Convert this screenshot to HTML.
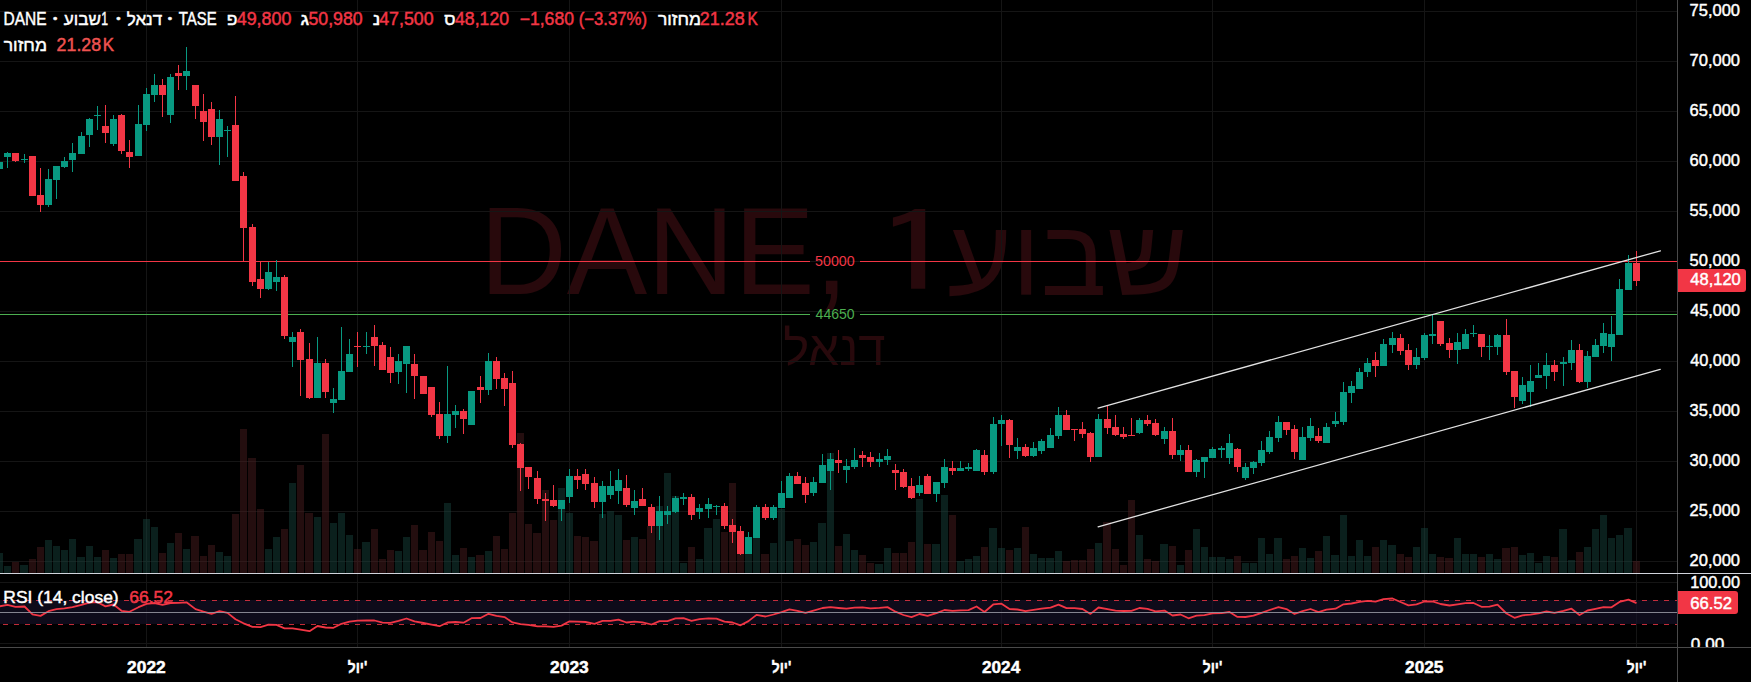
<!DOCTYPE html>
<html><head><meta charset="utf-8"><style>
html,body{margin:0;padding:0;background:#000;width:1751px;height:682px;overflow:hidden}
</style></head><body>
<svg width="1751" height="682" viewBox="0 0 1751 682" style="display:block" font-family="Liberation Sans, Arial, sans-serif">
<rect width="1751" height="682" fill="#000"/>
<text x="479.73" y="293.70" font-size="124" fill="#28090c" textLength="368.58" lengthAdjust="spacingAndGlyphs">DANE,</text>
<text x="872.64" y="293.70" font-size="114" fill="#28090c" textLength="86.37" lengthAdjust="spacingAndGlyphs" font-family="IPAGothic, Liberation Sans, sans-serif">1</text>
<text x="947.19" y="295.00" font-size="108" fill="#28090c" textLength="240.64" lengthAdjust="spacingAndGlyphs">שבוע</text>
<text x="783.27" y="365.00" font-size="48" fill="#28090c" textLength="102.20" lengthAdjust="spacingAndGlyphs">דנאל</text>
<g shape-rendering="crispEdges" fill="#151515">
<rect x="0" y="561" width="1677" height="1"/>
<rect x="0" y="511" width="1677" height="1"/>
<rect x="0" y="461" width="1677" height="1"/>
<rect x="0" y="411" width="1677" height="1"/>
<rect x="0" y="361" width="1677" height="1"/>
<rect x="0" y="311" width="1677" height="1"/>
<rect x="0" y="261" width="1677" height="1"/>
<rect x="0" y="211" width="1677" height="1"/>
<rect x="0" y="161" width="1677" height="1"/>
<rect x="0" y="111" width="1677" height="1"/>
<rect x="0" y="61" width="1677" height="1"/>
<rect x="0" y="11" width="1677" height="1"/>
<rect x="146" y="0" width="1" height="573"/>
<rect x="146" y="574" width="1" height="73"/>
<rect x="357" y="0" width="1" height="573"/>
<rect x="357" y="574" width="1" height="73"/>
<rect x="569" y="0" width="1" height="573"/>
<rect x="569" y="574" width="1" height="73"/>
<rect x="781" y="0" width="1" height="573"/>
<rect x="781" y="574" width="1" height="73"/>
<rect x="1001" y="0" width="1" height="573"/>
<rect x="1001" y="574" width="1" height="73"/>
<rect x="1212" y="0" width="1" height="573"/>
<rect x="1212" y="574" width="1" height="73"/>
<rect x="1424" y="0" width="1" height="573"/>
<rect x="1424" y="574" width="1" height="73"/>
<rect x="1636" y="0" width="1" height="573"/>
<rect x="1636" y="574" width="1" height="73"/>
<rect x="0" y="582" width="1677" height="1"/>
<rect x="0" y="643" width="1677" height="1"/>
</g>
<rect x="0" y="600" width="1677" height="24" fill="rgba(24,18,44,0.6)" shape-rendering="crispEdges"/>
<g shape-rendering="crispEdges">
<rect x="0" y="553" width="3" height="20" fill="rgba(24,72,65,0.45)"/>
<rect x="4" y="566" width="7" height="7" fill="rgba(24,72,65,0.45)"/>
<rect x="12" y="562" width="7" height="11" fill="rgba(80,30,33,0.45)"/>
<rect x="20" y="565" width="8" height="8" fill="rgba(24,72,65,0.45)"/>
<rect x="29" y="559" width="7" height="14" fill="rgba(80,30,33,0.45)"/>
<rect x="37" y="547" width="7" height="26" fill="rgba(80,30,33,0.45)"/>
<rect x="45" y="540" width="7" height="33" fill="rgba(24,72,65,0.45)"/>
<rect x="53" y="546" width="7" height="27" fill="rgba(24,72,65,0.45)"/>
<rect x="61" y="550" width="7" height="23" fill="rgba(24,72,65,0.45)"/>
<rect x="69" y="539" width="7" height="34" fill="rgba(24,72,65,0.45)"/>
<rect x="77" y="557" width="8" height="16" fill="rgba(24,72,65,0.45)"/>
<rect x="86" y="546" width="7" height="27" fill="rgba(24,72,65,0.45)"/>
<rect x="94" y="557" width="7" height="16" fill="rgba(24,72,65,0.45)"/>
<rect x="102" y="550" width="7" height="23" fill="rgba(80,30,33,0.45)"/>
<rect x="110" y="558" width="7" height="15" fill="rgba(24,72,65,0.45)"/>
<rect x="118" y="554" width="7" height="19" fill="rgba(80,30,33,0.45)"/>
<rect x="126" y="554" width="7" height="19" fill="rgba(80,30,33,0.45)"/>
<rect x="134" y="539" width="8" height="34" fill="rgba(24,72,65,0.45)"/>
<rect x="143" y="519" width="7" height="54" fill="rgba(24,72,65,0.45)"/>
<rect x="151" y="527" width="7" height="46" fill="rgba(24,72,65,0.45)"/>
<rect x="159" y="553" width="7" height="20" fill="rgba(80,30,33,0.45)"/>
<rect x="167" y="543" width="7" height="30" fill="rgba(24,72,65,0.45)"/>
<rect x="175" y="533" width="7" height="40" fill="rgba(80,30,33,0.45)"/>
<rect x="183" y="549" width="7" height="24" fill="rgba(24,72,65,0.45)"/>
<rect x="191" y="536" width="8" height="37" fill="rgba(80,30,33,0.45)"/>
<rect x="200" y="556" width="7" height="17" fill="rgba(80,30,33,0.45)"/>
<rect x="208" y="545" width="7" height="28" fill="rgba(80,30,33,0.45)"/>
<rect x="216" y="552" width="7" height="21" fill="rgba(24,72,65,0.45)"/>
<rect x="224" y="556" width="7" height="17" fill="rgba(24,72,65,0.45)"/>
<rect x="232" y="514" width="7" height="59" fill="rgba(80,30,33,0.45)"/>
<rect x="240" y="429" width="7" height="144" fill="rgba(80,30,33,0.45)"/>
<rect x="248" y="458" width="8" height="115" fill="rgba(80,30,33,0.45)"/>
<rect x="257" y="509" width="7" height="64" fill="rgba(80,30,33,0.45)"/>
<rect x="265" y="549" width="7" height="24" fill="rgba(24,72,65,0.45)"/>
<rect x="273" y="537" width="7" height="36" fill="rgba(24,72,65,0.45)"/>
<rect x="281" y="529" width="7" height="44" fill="rgba(80,30,33,0.45)"/>
<rect x="289" y="483" width="7" height="90" fill="rgba(24,72,65,0.45)"/>
<rect x="297" y="465" width="7" height="108" fill="rgba(80,30,33,0.45)"/>
<rect x="305" y="513" width="8" height="60" fill="rgba(80,30,33,0.45)"/>
<rect x="314" y="517" width="7" height="56" fill="rgba(24,72,65,0.45)"/>
<rect x="322" y="434" width="7" height="139" fill="rgba(80,30,33,0.45)"/>
<rect x="330" y="523" width="7" height="50" fill="rgba(24,72,65,0.45)"/>
<rect x="338" y="513" width="7" height="60" fill="rgba(24,72,65,0.45)"/>
<rect x="346" y="535" width="7" height="38" fill="rgba(24,72,65,0.45)"/>
<rect x="354" y="549" width="7" height="24" fill="rgba(80,30,33,0.45)"/>
<rect x="362" y="542" width="8" height="31" fill="rgba(24,72,65,0.45)"/>
<rect x="371" y="529" width="7" height="44" fill="rgba(80,30,33,0.45)"/>
<rect x="379" y="559" width="7" height="14" fill="rgba(80,30,33,0.45)"/>
<rect x="387" y="550" width="7" height="23" fill="rgba(80,30,33,0.45)"/>
<rect x="395" y="551" width="7" height="22" fill="rgba(24,72,65,0.45)"/>
<rect x="403" y="537" width="7" height="36" fill="rgba(24,72,65,0.45)"/>
<rect x="411" y="525" width="7" height="48" fill="rgba(80,30,33,0.45)"/>
<rect x="419" y="550" width="8" height="23" fill="rgba(80,30,33,0.45)"/>
<rect x="428" y="532" width="7" height="41" fill="rgba(80,30,33,0.45)"/>
<rect x="436" y="541" width="7" height="32" fill="rgba(80,30,33,0.45)"/>
<rect x="444" y="503" width="7" height="70" fill="rgba(24,72,65,0.45)"/>
<rect x="452" y="555" width="7" height="18" fill="rgba(24,72,65,0.45)"/>
<rect x="460" y="548" width="7" height="25" fill="rgba(80,30,33,0.45)"/>
<rect x="468" y="557" width="7" height="16" fill="rgba(24,72,65,0.45)"/>
<rect x="476" y="555" width="8" height="18" fill="rgba(80,30,33,0.45)"/>
<rect x="485" y="551" width="7" height="22" fill="rgba(24,72,65,0.45)"/>
<rect x="493" y="536" width="7" height="37" fill="rgba(80,30,33,0.45)"/>
<rect x="501" y="549" width="7" height="24" fill="rgba(80,30,33,0.45)"/>
<rect x="509" y="513" width="7" height="60" fill="rgba(80,30,33,0.45)"/>
<rect x="517" y="433" width="7" height="140" fill="rgba(80,30,33,0.45)"/>
<rect x="525" y="524" width="7" height="49" fill="rgba(80,30,33,0.45)"/>
<rect x="533" y="533" width="8" height="40" fill="rgba(80,30,33,0.45)"/>
<rect x="542" y="490" width="7" height="83" fill="rgba(80,30,33,0.45)"/>
<rect x="550" y="520" width="7" height="53" fill="rgba(80,30,33,0.45)"/>
<rect x="558" y="488" width="7" height="85" fill="rgba(24,72,65,0.45)"/>
<rect x="566" y="513" width="7" height="60" fill="rgba(24,72,65,0.45)"/>
<rect x="574" y="536" width="7" height="37" fill="rgba(80,30,33,0.45)"/>
<rect x="582" y="537" width="7" height="36" fill="rgba(80,30,33,0.45)"/>
<rect x="590" y="541" width="8" height="32" fill="rgba(80,30,33,0.45)"/>
<rect x="599" y="514" width="7" height="59" fill="rgba(24,72,65,0.45)"/>
<rect x="607" y="511" width="7" height="62" fill="rgba(24,72,65,0.45)"/>
<rect x="615" y="515" width="7" height="58" fill="rgba(24,72,65,0.45)"/>
<rect x="623" y="540" width="7" height="33" fill="rgba(80,30,33,0.45)"/>
<rect x="631" y="537" width="7" height="36" fill="rgba(24,72,65,0.45)"/>
<rect x="639" y="539" width="7" height="34" fill="rgba(80,30,33,0.45)"/>
<rect x="647" y="526" width="8" height="47" fill="rgba(80,30,33,0.45)"/>
<rect x="656" y="506" width="7" height="67" fill="rgba(24,72,65,0.45)"/>
<rect x="664" y="473" width="7" height="100" fill="rgba(24,72,65,0.45)"/>
<rect x="672" y="496" width="7" height="77" fill="rgba(24,72,65,0.45)"/>
<rect x="680" y="563" width="7" height="10" fill="rgba(24,72,65,0.45)"/>
<rect x="688" y="547" width="7" height="26" fill="rgba(80,30,33,0.45)"/>
<rect x="696" y="559" width="7" height="14" fill="rgba(24,72,65,0.45)"/>
<rect x="704" y="528" width="8" height="45" fill="rgba(24,72,65,0.45)"/>
<rect x="713" y="519" width="7" height="54" fill="rgba(24,72,65,0.45)"/>
<rect x="721" y="532" width="7" height="41" fill="rgba(80,30,33,0.45)"/>
<rect x="729" y="483" width="7" height="90" fill="rgba(80,30,33,0.45)"/>
<rect x="737" y="554" width="7" height="19" fill="rgba(80,30,33,0.45)"/>
<rect x="745" y="554" width="7" height="19" fill="rgba(24,72,65,0.45)"/>
<rect x="753" y="538" width="7" height="35" fill="rgba(24,72,65,0.45)"/>
<rect x="761" y="554" width="8" height="19" fill="rgba(80,30,33,0.45)"/>
<rect x="770" y="543" width="7" height="30" fill="rgba(24,72,65,0.45)"/>
<rect x="778" y="509" width="7" height="64" fill="rgba(24,72,65,0.45)"/>
<rect x="786" y="541" width="7" height="32" fill="rgba(24,72,65,0.45)"/>
<rect x="794" y="539" width="7" height="34" fill="rgba(80,30,33,0.45)"/>
<rect x="802" y="545" width="7" height="28" fill="rgba(80,30,33,0.45)"/>
<rect x="810" y="542" width="7" height="31" fill="rgba(24,72,65,0.45)"/>
<rect x="818" y="523" width="8" height="50" fill="rgba(24,72,65,0.45)"/>
<rect x="827" y="453" width="7" height="120" fill="rgba(24,72,65,0.45)"/>
<rect x="835" y="546" width="7" height="27" fill="rgba(80,30,33,0.45)"/>
<rect x="843" y="534" width="7" height="39" fill="rgba(24,72,65,0.45)"/>
<rect x="851" y="550" width="7" height="23" fill="rgba(24,72,65,0.45)"/>
<rect x="859" y="555" width="7" height="18" fill="rgba(80,30,33,0.45)"/>
<rect x="867" y="563" width="7" height="10" fill="rgba(80,30,33,0.45)"/>
<rect x="875" y="564" width="8" height="9" fill="rgba(24,72,65,0.45)"/>
<rect x="884" y="548" width="7" height="25" fill="rgba(24,72,65,0.45)"/>
<rect x="892" y="553" width="7" height="20" fill="rgba(80,30,33,0.45)"/>
<rect x="900" y="553" width="7" height="20" fill="rgba(80,30,33,0.45)"/>
<rect x="908" y="542" width="7" height="31" fill="rgba(80,30,33,0.45)"/>
<rect x="916" y="499" width="7" height="74" fill="rgba(24,72,65,0.45)"/>
<rect x="924" y="544" width="7" height="29" fill="rgba(80,30,33,0.45)"/>
<rect x="932" y="544" width="8" height="29" fill="rgba(24,72,65,0.45)"/>
<rect x="941" y="495" width="7" height="78" fill="rgba(24,72,65,0.45)"/>
<rect x="949" y="515" width="7" height="58" fill="rgba(80,30,33,0.45)"/>
<rect x="957" y="561" width="7" height="12" fill="rgba(24,72,65,0.45)"/>
<rect x="965" y="559" width="7" height="14" fill="rgba(24,72,65,0.45)"/>
<rect x="973" y="556" width="7" height="17" fill="rgba(24,72,65,0.45)"/>
<rect x="981" y="547" width="7" height="26" fill="rgba(80,30,33,0.45)"/>
<rect x="989" y="528" width="8" height="45" fill="rgba(24,72,65,0.45)"/>
<rect x="998" y="548" width="7" height="25" fill="rgba(24,72,65,0.45)"/>
<rect x="1006" y="550" width="7" height="23" fill="rgba(80,30,33,0.45)"/>
<rect x="1014" y="548" width="7" height="25" fill="rgba(24,72,65,0.45)"/>
<rect x="1022" y="527" width="7" height="46" fill="rgba(80,30,33,0.45)"/>
<rect x="1030" y="554" width="7" height="19" fill="rgba(24,72,65,0.45)"/>
<rect x="1038" y="558" width="7" height="15" fill="rgba(24,72,65,0.45)"/>
<rect x="1046" y="558" width="8" height="15" fill="rgba(24,72,65,0.45)"/>
<rect x="1055" y="551" width="7" height="22" fill="rgba(24,72,65,0.45)"/>
<rect x="1063" y="561" width="7" height="12" fill="rgba(80,30,33,0.45)"/>
<rect x="1071" y="560" width="7" height="13" fill="rgba(80,30,33,0.45)"/>
<rect x="1079" y="560" width="7" height="13" fill="rgba(80,30,33,0.45)"/>
<rect x="1087" y="549" width="7" height="24" fill="rgba(80,30,33,0.45)"/>
<rect x="1095" y="543" width="7" height="30" fill="rgba(24,72,65,0.45)"/>
<rect x="1103" y="522" width="8" height="51" fill="rgba(80,30,33,0.45)"/>
<rect x="1112" y="549" width="7" height="24" fill="rgba(80,30,33,0.45)"/>
<rect x="1120" y="565" width="7" height="8" fill="rgba(80,30,33,0.45)"/>
<rect x="1128" y="500" width="7" height="73" fill="rgba(80,30,33,0.45)"/>
<rect x="1136" y="535" width="7" height="38" fill="rgba(24,72,65,0.45)"/>
<rect x="1144" y="559" width="7" height="14" fill="rgba(80,30,33,0.45)"/>
<rect x="1152" y="561" width="7" height="12" fill="rgba(80,30,33,0.45)"/>
<rect x="1160" y="544" width="8" height="29" fill="rgba(24,72,65,0.45)"/>
<rect x="1169" y="546" width="7" height="27" fill="rgba(80,30,33,0.45)"/>
<rect x="1177" y="565" width="7" height="8" fill="rgba(24,72,65,0.45)"/>
<rect x="1185" y="550" width="7" height="23" fill="rgba(80,30,33,0.45)"/>
<rect x="1193" y="529" width="7" height="44" fill="rgba(24,72,65,0.45)"/>
<rect x="1201" y="547" width="7" height="26" fill="rgba(24,72,65,0.45)"/>
<rect x="1209" y="557" width="7" height="16" fill="rgba(24,72,65,0.45)"/>
<rect x="1217" y="557" width="8" height="16" fill="rgba(24,72,65,0.45)"/>
<rect x="1226" y="559" width="7" height="14" fill="rgba(24,72,65,0.45)"/>
<rect x="1234" y="556" width="7" height="17" fill="rgba(80,30,33,0.45)"/>
<rect x="1242" y="563" width="7" height="10" fill="rgba(24,72,65,0.45)"/>
<rect x="1250" y="563" width="7" height="10" fill="rgba(24,72,65,0.45)"/>
<rect x="1258" y="538" width="7" height="35" fill="rgba(24,72,65,0.45)"/>
<rect x="1266" y="554" width="7" height="19" fill="rgba(24,72,65,0.45)"/>
<rect x="1274" y="538" width="8" height="35" fill="rgba(24,72,65,0.45)"/>
<rect x="1283" y="559" width="7" height="14" fill="rgba(80,30,33,0.45)"/>
<rect x="1291" y="556" width="7" height="17" fill="rgba(80,30,33,0.45)"/>
<rect x="1299" y="548" width="7" height="25" fill="rgba(24,72,65,0.45)"/>
<rect x="1307" y="558" width="7" height="15" fill="rgba(24,72,65,0.45)"/>
<rect x="1315" y="551" width="7" height="22" fill="rgba(80,30,33,0.45)"/>
<rect x="1323" y="536" width="7" height="37" fill="rgba(24,72,65,0.45)"/>
<rect x="1331" y="555" width="8" height="18" fill="rgba(24,72,65,0.45)"/>
<rect x="1340" y="515" width="7" height="58" fill="rgba(24,72,65,0.45)"/>
<rect x="1348" y="556" width="7" height="17" fill="rgba(24,72,65,0.45)"/>
<rect x="1356" y="540" width="7" height="33" fill="rgba(24,72,65,0.45)"/>
<rect x="1364" y="556" width="7" height="17" fill="rgba(24,72,65,0.45)"/>
<rect x="1372" y="547" width="7" height="26" fill="rgba(80,30,33,0.45)"/>
<rect x="1380" y="540" width="7" height="33" fill="rgba(24,72,65,0.45)"/>
<rect x="1388" y="545" width="8" height="28" fill="rgba(24,72,65,0.45)"/>
<rect x="1397" y="554" width="7" height="19" fill="rgba(80,30,33,0.45)"/>
<rect x="1405" y="557" width="7" height="16" fill="rgba(80,30,33,0.45)"/>
<rect x="1413" y="547" width="7" height="26" fill="rgba(24,72,65,0.45)"/>
<rect x="1421" y="528" width="7" height="45" fill="rgba(24,72,65,0.45)"/>
<rect x="1429" y="554" width="7" height="19" fill="rgba(24,72,65,0.45)"/>
<rect x="1437" y="557" width="7" height="16" fill="rgba(80,30,33,0.45)"/>
<rect x="1445" y="558" width="8" height="15" fill="rgba(80,30,33,0.45)"/>
<rect x="1454" y="538" width="7" height="35" fill="rgba(24,72,65,0.45)"/>
<rect x="1462" y="554" width="7" height="19" fill="rgba(24,72,65,0.45)"/>
<rect x="1470" y="554" width="7" height="19" fill="rgba(24,72,65,0.45)"/>
<rect x="1478" y="557" width="7" height="16" fill="rgba(80,30,33,0.45)"/>
<rect x="1486" y="554" width="7" height="19" fill="rgba(24,72,65,0.45)"/>
<rect x="1494" y="559" width="7" height="14" fill="rgba(24,72,65,0.45)"/>
<rect x="1502" y="548" width="8" height="25" fill="rgba(80,30,33,0.45)"/>
<rect x="1511" y="547" width="7" height="26" fill="rgba(80,30,33,0.45)"/>
<rect x="1519" y="555" width="7" height="18" fill="rgba(24,72,65,0.45)"/>
<rect x="1527" y="553" width="7" height="20" fill="rgba(24,72,65,0.45)"/>
<rect x="1535" y="563" width="7" height="10" fill="rgba(24,72,65,0.45)"/>
<rect x="1543" y="556" width="7" height="17" fill="rgba(24,72,65,0.45)"/>
<rect x="1551" y="557" width="7" height="16" fill="rgba(80,30,33,0.45)"/>
<rect x="1559" y="529" width="8" height="44" fill="rgba(24,72,65,0.45)"/>
<rect x="1568" y="560" width="7" height="13" fill="rgba(24,72,65,0.45)"/>
<rect x="1576" y="552" width="7" height="21" fill="rgba(80,30,33,0.45)"/>
<rect x="1584" y="547" width="7" height="26" fill="rgba(24,72,65,0.45)"/>
<rect x="1592" y="529" width="7" height="44" fill="rgba(24,72,65,0.45)"/>
<rect x="1600" y="515" width="7" height="58" fill="rgba(24,72,65,0.45)"/>
<rect x="1608" y="538" width="7" height="35" fill="rgba(24,72,65,0.45)"/>
<rect x="1616" y="535" width="7" height="38" fill="rgba(24,72,65,0.45)"/>
<rect x="1624" y="528" width="8" height="45" fill="rgba(24,72,65,0.45)"/>
<rect x="1633" y="561" width="7" height="12" fill="rgba(80,30,33,0.45)"/>
</g>
<g shape-rendering="crispEdges">
<rect x="0" y="261" width="810" height="1" fill="#F23645"/>
<rect x="860" y="261" width="817" height="1" fill="#F23645"/>
<rect x="0" y="314" width="810" height="1" fill="#4caf50"/>
<rect x="860" y="314" width="817" height="1" fill="#4caf50"/>
</g>
<text x="815.09" y="265.80" font-size="15" fill="#F23645" textLength="39.56" lengthAdjust="spacingAndGlyphs">50000</text>
<text x="815.57" y="319.30" font-size="15" fill="#4caf50" textLength="39.07" lengthAdjust="spacingAndGlyphs">44650</text>
<g shape-rendering="crispEdges">
<rect x="-1" y="160" width="1" height="10" fill="#089981"/>
<rect x="-4" y="162" width="7" height="7" fill="#089981"/>
<rect x="7" y="152" width="1" height="16" fill="#089981"/>
<rect x="4" y="153" width="7" height="4" fill="#089981"/>
<rect x="15" y="153" width="1" height="9" fill="#F23645"/>
<rect x="12" y="153" width="7" height="8" fill="#F23645"/>
<rect x="24" y="154" width="1" height="9" fill="#089981"/>
<rect x="21" y="159" width="7" height="1" fill="#089981"/>
<rect x="32" y="156" width="1" height="40" fill="#F23645"/>
<rect x="29" y="156" width="7" height="40" fill="#F23645"/>
<rect x="40" y="168" width="1" height="44" fill="#F23645"/>
<rect x="37" y="195" width="7" height="10" fill="#F23645"/>
<rect x="48" y="169" width="1" height="38" fill="#089981"/>
<rect x="45" y="179" width="7" height="26" fill="#089981"/>
<rect x="56" y="166" width="1" height="33" fill="#089981"/>
<rect x="53" y="166" width="7" height="14" fill="#089981"/>
<rect x="64" y="157" width="1" height="11" fill="#089981"/>
<rect x="61" y="161" width="7" height="6" fill="#089981"/>
<rect x="72" y="143" width="1" height="29" fill="#089981"/>
<rect x="69" y="153" width="7" height="7" fill="#089981"/>
<rect x="81" y="132" width="1" height="22" fill="#089981"/>
<rect x="78" y="136" width="7" height="18" fill="#089981"/>
<rect x="89" y="118" width="1" height="29" fill="#089981"/>
<rect x="86" y="119" width="7" height="16" fill="#089981"/>
<rect x="97" y="106" width="1" height="24" fill="#089981"/>
<rect x="94" y="115" width="7" height="1" fill="#089981"/>
<rect x="105" y="105" width="1" height="38" fill="#F23645"/>
<rect x="102" y="126" width="7" height="7" fill="#F23645"/>
<rect x="113" y="115" width="1" height="31" fill="#089981"/>
<rect x="110" y="119" width="7" height="25" fill="#089981"/>
<rect x="121" y="114" width="1" height="40" fill="#F23645"/>
<rect x="118" y="115" width="7" height="36" fill="#F23645"/>
<rect x="129" y="140" width="1" height="28" fill="#F23645"/>
<rect x="126" y="152" width="7" height="5" fill="#F23645"/>
<rect x="138" y="105" width="1" height="51" fill="#089981"/>
<rect x="135" y="124" width="7" height="32" fill="#089981"/>
<rect x="146" y="88" width="1" height="43" fill="#089981"/>
<rect x="143" y="94" width="7" height="31" fill="#089981"/>
<rect x="154" y="74" width="1" height="28" fill="#089981"/>
<rect x="151" y="85" width="7" height="10" fill="#089981"/>
<rect x="162" y="79" width="1" height="38" fill="#F23645"/>
<rect x="159" y="85" width="7" height="10" fill="#F23645"/>
<rect x="170" y="74" width="1" height="49" fill="#089981"/>
<rect x="167" y="77" width="7" height="38" fill="#089981"/>
<rect x="178" y="65" width="1" height="25" fill="#F23645"/>
<rect x="175" y="73" width="7" height="3" fill="#F23645"/>
<rect x="186" y="47" width="1" height="43" fill="#089981"/>
<rect x="183" y="71" width="7" height="5" fill="#089981"/>
<rect x="195" y="85" width="1" height="34" fill="#F23645"/>
<rect x="192" y="85" width="7" height="21" fill="#F23645"/>
<rect x="203" y="94" width="1" height="47" fill="#F23645"/>
<rect x="200" y="111" width="7" height="11" fill="#F23645"/>
<rect x="211" y="102" width="1" height="43" fill="#F23645"/>
<rect x="208" y="109" width="7" height="28" fill="#F23645"/>
<rect x="219" y="110" width="1" height="55" fill="#089981"/>
<rect x="216" y="119" width="7" height="18" fill="#089981"/>
<rect x="227" y="126" width="1" height="31" fill="#089981"/>
<rect x="224" y="130" width="7" height="1" fill="#089981"/>
<rect x="235" y="96" width="1" height="85" fill="#F23645"/>
<rect x="232" y="125" width="7" height="56" fill="#F23645"/>
<rect x="243" y="172" width="1" height="89" fill="#F23645"/>
<rect x="240" y="176" width="7" height="52" fill="#F23645"/>
<rect x="252" y="224" width="1" height="62" fill="#F23645"/>
<rect x="249" y="227" width="7" height="55" fill="#F23645"/>
<rect x="260" y="262" width="1" height="36" fill="#F23645"/>
<rect x="257" y="279" width="7" height="10" fill="#F23645"/>
<rect x="268" y="262" width="1" height="28" fill="#089981"/>
<rect x="265" y="272" width="7" height="17" fill="#089981"/>
<rect x="276" y="260" width="1" height="31" fill="#089981"/>
<rect x="273" y="277" width="7" height="5" fill="#089981"/>
<rect x="284" y="275" width="1" height="64" fill="#F23645"/>
<rect x="281" y="277" width="7" height="59" fill="#F23645"/>
<rect x="292" y="332" width="1" height="35" fill="#089981"/>
<rect x="289" y="337" width="7" height="5" fill="#089981"/>
<rect x="300" y="329" width="1" height="67" fill="#F23645"/>
<rect x="297" y="332" width="7" height="28" fill="#F23645"/>
<rect x="309" y="343" width="1" height="56" fill="#F23645"/>
<rect x="306" y="359" width="7" height="39" fill="#F23645"/>
<rect x="317" y="337" width="1" height="61" fill="#089981"/>
<rect x="314" y="363" width="7" height="35" fill="#089981"/>
<rect x="325" y="359" width="1" height="39" fill="#F23645"/>
<rect x="322" y="363" width="7" height="29" fill="#F23645"/>
<rect x="333" y="388" width="1" height="25" fill="#089981"/>
<rect x="330" y="399" width="7" height="4" fill="#089981"/>
<rect x="341" y="327" width="1" height="73" fill="#089981"/>
<rect x="338" y="371" width="7" height="29" fill="#089981"/>
<rect x="349" y="339" width="1" height="33" fill="#089981"/>
<rect x="346" y="354" width="7" height="18" fill="#089981"/>
<rect x="357" y="332" width="1" height="35" fill="#F23645"/>
<rect x="354" y="346" width="7" height="1" fill="#F23645"/>
<rect x="366" y="332" width="1" height="22" fill="#089981"/>
<rect x="363" y="346" width="7" height="1" fill="#089981"/>
<rect x="374" y="325" width="1" height="41" fill="#F23645"/>
<rect x="371" y="337" width="7" height="9" fill="#F23645"/>
<rect x="382" y="342" width="1" height="28" fill="#F23645"/>
<rect x="379" y="345" width="7" height="25" fill="#F23645"/>
<rect x="390" y="347" width="1" height="36" fill="#F23645"/>
<rect x="387" y="357" width="7" height="16" fill="#F23645"/>
<rect x="398" y="354" width="1" height="30" fill="#089981"/>
<rect x="395" y="361" width="7" height="11" fill="#089981"/>
<rect x="406" y="346" width="1" height="47" fill="#089981"/>
<rect x="403" y="346" width="7" height="18" fill="#089981"/>
<rect x="414" y="354" width="1" height="45" fill="#F23645"/>
<rect x="411" y="364" width="7" height="12" fill="#F23645"/>
<rect x="423" y="376" width="1" height="18" fill="#F23645"/>
<rect x="420" y="376" width="7" height="18" fill="#F23645"/>
<rect x="431" y="387" width="1" height="30" fill="#F23645"/>
<rect x="428" y="387" width="7" height="28" fill="#F23645"/>
<rect x="439" y="402" width="1" height="37" fill="#F23645"/>
<rect x="436" y="414" width="7" height="22" fill="#F23645"/>
<rect x="447" y="366" width="1" height="77" fill="#089981"/>
<rect x="444" y="414" width="7" height="22" fill="#089981"/>
<rect x="455" y="405" width="1" height="23" fill="#089981"/>
<rect x="452" y="411" width="7" height="4" fill="#089981"/>
<rect x="463" y="409" width="1" height="25" fill="#F23645"/>
<rect x="460" y="411" width="7" height="8" fill="#F23645"/>
<rect x="471" y="391" width="1" height="34" fill="#089981"/>
<rect x="468" y="391" width="7" height="34" fill="#089981"/>
<rect x="480" y="376" width="1" height="27" fill="#F23645"/>
<rect x="477" y="387" width="7" height="3" fill="#F23645"/>
<rect x="488" y="353" width="1" height="42" fill="#089981"/>
<rect x="485" y="361" width="7" height="29" fill="#089981"/>
<rect x="496" y="357" width="1" height="32" fill="#F23645"/>
<rect x="493" y="361" width="7" height="18" fill="#F23645"/>
<rect x="504" y="373" width="1" height="33" fill="#F23645"/>
<rect x="501" y="378" width="7" height="11" fill="#F23645"/>
<rect x="512" y="371" width="1" height="77" fill="#F23645"/>
<rect x="509" y="383" width="7" height="62" fill="#F23645"/>
<rect x="520" y="443" width="1" height="48" fill="#F23645"/>
<rect x="517" y="444" width="7" height="24" fill="#F23645"/>
<rect x="528" y="467" width="1" height="22" fill="#F23645"/>
<rect x="525" y="467" width="7" height="10" fill="#F23645"/>
<rect x="537" y="471" width="1" height="33" fill="#F23645"/>
<rect x="534" y="478" width="7" height="21" fill="#F23645"/>
<rect x="545" y="493" width="1" height="28" fill="#F23645"/>
<rect x="542" y="499" width="7" height="2" fill="#F23645"/>
<rect x="553" y="485" width="1" height="22" fill="#F23645"/>
<rect x="550" y="500" width="7" height="6" fill="#F23645"/>
<rect x="561" y="500" width="1" height="21" fill="#089981"/>
<rect x="558" y="500" width="7" height="9" fill="#089981"/>
<rect x="569" y="469" width="1" height="34" fill="#089981"/>
<rect x="566" y="476" width="7" height="21" fill="#089981"/>
<rect x="577" y="469" width="1" height="20" fill="#F23645"/>
<rect x="574" y="476" width="7" height="4" fill="#F23645"/>
<rect x="585" y="469" width="1" height="21" fill="#F23645"/>
<rect x="582" y="474" width="7" height="10" fill="#F23645"/>
<rect x="594" y="477" width="1" height="31" fill="#F23645"/>
<rect x="591" y="483" width="7" height="19" fill="#F23645"/>
<rect x="602" y="481" width="1" height="37" fill="#089981"/>
<rect x="599" y="486" width="7" height="16" fill="#089981"/>
<rect x="610" y="471" width="1" height="28" fill="#089981"/>
<rect x="607" y="486" width="7" height="9" fill="#089981"/>
<rect x="618" y="469" width="1" height="35" fill="#089981"/>
<rect x="615" y="480" width="7" height="11" fill="#089981"/>
<rect x="626" y="475" width="1" height="32" fill="#F23645"/>
<rect x="623" y="488" width="7" height="17" fill="#F23645"/>
<rect x="634" y="490" width="1" height="25" fill="#089981"/>
<rect x="631" y="501" width="7" height="7" fill="#089981"/>
<rect x="642" y="488" width="1" height="18" fill="#F23645"/>
<rect x="639" y="499" width="7" height="7" fill="#F23645"/>
<rect x="651" y="504" width="1" height="29" fill="#F23645"/>
<rect x="648" y="507" width="7" height="19" fill="#F23645"/>
<rect x="659" y="496" width="1" height="44" fill="#089981"/>
<rect x="656" y="511" width="7" height="15" fill="#089981"/>
<rect x="667" y="506" width="1" height="18" fill="#089981"/>
<rect x="664" y="511" width="7" height="4" fill="#089981"/>
<rect x="675" y="496" width="1" height="17" fill="#089981"/>
<rect x="672" y="498" width="7" height="14" fill="#089981"/>
<rect x="683" y="493" width="1" height="12" fill="#089981"/>
<rect x="680" y="497" width="7" height="2" fill="#089981"/>
<rect x="691" y="494" width="1" height="26" fill="#F23645"/>
<rect x="688" y="497" width="7" height="18" fill="#F23645"/>
<rect x="699" y="504" width="1" height="15" fill="#089981"/>
<rect x="696" y="508" width="7" height="4" fill="#089981"/>
<rect x="708" y="498" width="1" height="20" fill="#089981"/>
<rect x="705" y="504" width="7" height="5" fill="#089981"/>
<rect x="716" y="505" width="1" height="10" fill="#089981"/>
<rect x="713" y="506" width="7" height="1" fill="#089981"/>
<rect x="724" y="503" width="1" height="26" fill="#F23645"/>
<rect x="721" y="506" width="7" height="20" fill="#F23645"/>
<rect x="732" y="519" width="1" height="24" fill="#F23645"/>
<rect x="729" y="525" width="7" height="7" fill="#F23645"/>
<rect x="740" y="526" width="1" height="29" fill="#F23645"/>
<rect x="737" y="531" width="7" height="23" fill="#F23645"/>
<rect x="748" y="532" width="1" height="22" fill="#089981"/>
<rect x="745" y="537" width="7" height="17" fill="#089981"/>
<rect x="756" y="505" width="1" height="33" fill="#089981"/>
<rect x="753" y="507" width="7" height="31" fill="#089981"/>
<rect x="765" y="504" width="1" height="16" fill="#F23645"/>
<rect x="762" y="507" width="7" height="11" fill="#F23645"/>
<rect x="773" y="505" width="1" height="15" fill="#089981"/>
<rect x="770" y="507" width="7" height="11" fill="#089981"/>
<rect x="781" y="481" width="1" height="27" fill="#089981"/>
<rect x="778" y="493" width="7" height="15" fill="#089981"/>
<rect x="789" y="473" width="1" height="25" fill="#089981"/>
<rect x="786" y="476" width="7" height="22" fill="#089981"/>
<rect x="797" y="472" width="1" height="12" fill="#F23645"/>
<rect x="794" y="476" width="7" height="8" fill="#F23645"/>
<rect x="805" y="477" width="1" height="26" fill="#F23645"/>
<rect x="802" y="483" width="7" height="12" fill="#F23645"/>
<rect x="813" y="477" width="1" height="19" fill="#089981"/>
<rect x="810" y="482" width="7" height="11" fill="#089981"/>
<rect x="822" y="454" width="1" height="29" fill="#089981"/>
<rect x="819" y="465" width="7" height="18" fill="#089981"/>
<rect x="830" y="453" width="1" height="37" fill="#089981"/>
<rect x="827" y="459" width="7" height="12" fill="#089981"/>
<rect x="838" y="450" width="1" height="23" fill="#F23645"/>
<rect x="835" y="460" width="7" height="3" fill="#F23645"/>
<rect x="846" y="459" width="1" height="24" fill="#089981"/>
<rect x="843" y="466" width="7" height="4" fill="#089981"/>
<rect x="854" y="448" width="1" height="21" fill="#089981"/>
<rect x="851" y="460" width="7" height="7" fill="#089981"/>
<rect x="862" y="451" width="1" height="16" fill="#F23645"/>
<rect x="859" y="455" width="7" height="3" fill="#F23645"/>
<rect x="870" y="452" width="1" height="15" fill="#F23645"/>
<rect x="867" y="457" width="7" height="5" fill="#F23645"/>
<rect x="879" y="453" width="1" height="14" fill="#089981"/>
<rect x="876" y="459" width="7" height="3" fill="#089981"/>
<rect x="887" y="449" width="1" height="16" fill="#089981"/>
<rect x="884" y="456" width="7" height="4" fill="#089981"/>
<rect x="895" y="464" width="1" height="26" fill="#F23645"/>
<rect x="892" y="470" width="7" height="3" fill="#F23645"/>
<rect x="903" y="469" width="1" height="19" fill="#F23645"/>
<rect x="900" y="472" width="7" height="15" fill="#F23645"/>
<rect x="911" y="478" width="1" height="21" fill="#F23645"/>
<rect x="908" y="486" width="7" height="12" fill="#F23645"/>
<rect x="919" y="476" width="1" height="20" fill="#089981"/>
<rect x="916" y="485" width="7" height="8" fill="#089981"/>
<rect x="927" y="474" width="1" height="20" fill="#F23645"/>
<rect x="924" y="476" width="7" height="18" fill="#F23645"/>
<rect x="936" y="482" width="1" height="20" fill="#089981"/>
<rect x="933" y="482" width="7" height="12" fill="#089981"/>
<rect x="944" y="459" width="1" height="29" fill="#089981"/>
<rect x="941" y="467" width="7" height="16" fill="#089981"/>
<rect x="952" y="461" width="1" height="14" fill="#F23645"/>
<rect x="949" y="468" width="7" height="3" fill="#F23645"/>
<rect x="960" y="461" width="1" height="10" fill="#089981"/>
<rect x="957" y="468" width="7" height="3" fill="#089981"/>
<rect x="968" y="463" width="1" height="8" fill="#089981"/>
<rect x="965" y="467" width="7" height="2" fill="#089981"/>
<rect x="976" y="449" width="1" height="22" fill="#089981"/>
<rect x="973" y="450" width="7" height="21" fill="#089981"/>
<rect x="984" y="450" width="1" height="25" fill="#F23645"/>
<rect x="981" y="455" width="7" height="17" fill="#F23645"/>
<rect x="993" y="417" width="1" height="57" fill="#089981"/>
<rect x="990" y="424" width="7" height="48" fill="#089981"/>
<rect x="1001" y="415" width="1" height="31" fill="#089981"/>
<rect x="998" y="420" width="7" height="4" fill="#089981"/>
<rect x="1009" y="419" width="1" height="39" fill="#F23645"/>
<rect x="1006" y="420" width="7" height="25" fill="#F23645"/>
<rect x="1017" y="438" width="1" height="21" fill="#089981"/>
<rect x="1014" y="447" width="7" height="4" fill="#089981"/>
<rect x="1025" y="444" width="1" height="13" fill="#F23645"/>
<rect x="1022" y="447" width="7" height="9" fill="#F23645"/>
<rect x="1033" y="442" width="1" height="15" fill="#089981"/>
<rect x="1030" y="448" width="7" height="8" fill="#089981"/>
<rect x="1041" y="439" width="1" height="15" fill="#089981"/>
<rect x="1038" y="441" width="7" height="10" fill="#089981"/>
<rect x="1050" y="428" width="1" height="20" fill="#089981"/>
<rect x="1047" y="435" width="7" height="13" fill="#089981"/>
<rect x="1058" y="407" width="1" height="32" fill="#089981"/>
<rect x="1055" y="415" width="7" height="21" fill="#089981"/>
<rect x="1066" y="410" width="1" height="20" fill="#F23645"/>
<rect x="1063" y="415" width="7" height="15" fill="#F23645"/>
<rect x="1074" y="429" width="1" height="12" fill="#F23645"/>
<rect x="1071" y="429" width="7" height="1" fill="#F23645"/>
<rect x="1082" y="422" width="1" height="16" fill="#F23645"/>
<rect x="1079" y="429" width="7" height="5" fill="#F23645"/>
<rect x="1090" y="432" width="1" height="30" fill="#F23645"/>
<rect x="1087" y="433" width="7" height="24" fill="#F23645"/>
<rect x="1098" y="414" width="1" height="43" fill="#089981"/>
<rect x="1095" y="419" width="7" height="38" fill="#089981"/>
<rect x="1107" y="405" width="1" height="29" fill="#F23645"/>
<rect x="1104" y="419" width="7" height="9" fill="#F23645"/>
<rect x="1115" y="415" width="1" height="21" fill="#F23645"/>
<rect x="1112" y="427" width="7" height="8" fill="#F23645"/>
<rect x="1123" y="427" width="1" height="12" fill="#F23645"/>
<rect x="1120" y="434" width="7" height="3" fill="#F23645"/>
<rect x="1131" y="418" width="1" height="18" fill="#F23645"/>
<rect x="1128" y="435" width="7" height="1" fill="#F23645"/>
<rect x="1139" y="418" width="1" height="16" fill="#089981"/>
<rect x="1136" y="420" width="7" height="13" fill="#089981"/>
<rect x="1147" y="415" width="1" height="11" fill="#F23645"/>
<rect x="1144" y="420" width="7" height="4" fill="#F23645"/>
<rect x="1155" y="419" width="1" height="17" fill="#F23645"/>
<rect x="1152" y="423" width="7" height="12" fill="#F23645"/>
<rect x="1164" y="427" width="1" height="17" fill="#089981"/>
<rect x="1161" y="431" width="7" height="8" fill="#089981"/>
<rect x="1172" y="418" width="1" height="41" fill="#F23645"/>
<rect x="1169" y="431" width="7" height="24" fill="#F23645"/>
<rect x="1180" y="445" width="1" height="16" fill="#089981"/>
<rect x="1177" y="450" width="7" height="5" fill="#089981"/>
<rect x="1188" y="445" width="1" height="27" fill="#F23645"/>
<rect x="1185" y="450" width="7" height="22" fill="#F23645"/>
<rect x="1196" y="459" width="1" height="18" fill="#089981"/>
<rect x="1193" y="460" width="7" height="12" fill="#089981"/>
<rect x="1204" y="457" width="1" height="21" fill="#089981"/>
<rect x="1201" y="457" width="7" height="5" fill="#089981"/>
<rect x="1212" y="447" width="1" height="11" fill="#089981"/>
<rect x="1209" y="449" width="7" height="9" fill="#089981"/>
<rect x="1221" y="446" width="1" height="12" fill="#089981"/>
<rect x="1218" y="448" width="7" height="2" fill="#089981"/>
<rect x="1229" y="434" width="1" height="30" fill="#089981"/>
<rect x="1226" y="443" width="7" height="15" fill="#089981"/>
<rect x="1237" y="448" width="1" height="24" fill="#F23645"/>
<rect x="1234" y="449" width="7" height="18" fill="#F23645"/>
<rect x="1245" y="463" width="1" height="17" fill="#089981"/>
<rect x="1242" y="467" width="7" height="11" fill="#089981"/>
<rect x="1253" y="461" width="1" height="13" fill="#089981"/>
<rect x="1250" y="462" width="7" height="6" fill="#089981"/>
<rect x="1261" y="441" width="1" height="25" fill="#089981"/>
<rect x="1258" y="450" width="7" height="13" fill="#089981"/>
<rect x="1269" y="431" width="1" height="23" fill="#089981"/>
<rect x="1266" y="437" width="7" height="15" fill="#089981"/>
<rect x="1278" y="416" width="1" height="26" fill="#089981"/>
<rect x="1275" y="422" width="7" height="16" fill="#089981"/>
<rect x="1286" y="422" width="1" height="13" fill="#F23645"/>
<rect x="1283" y="422" width="7" height="8" fill="#F23645"/>
<rect x="1294" y="425" width="1" height="34" fill="#F23645"/>
<rect x="1291" y="429" width="7" height="23" fill="#F23645"/>
<rect x="1302" y="427" width="1" height="33" fill="#089981"/>
<rect x="1299" y="437" width="7" height="23" fill="#089981"/>
<rect x="1310" y="418" width="1" height="23" fill="#089981"/>
<rect x="1307" y="426" width="7" height="12" fill="#089981"/>
<rect x="1318" y="428" width="1" height="15" fill="#F23645"/>
<rect x="1315" y="436" width="7" height="5" fill="#F23645"/>
<rect x="1326" y="423" width="1" height="20" fill="#089981"/>
<rect x="1323" y="427" width="7" height="16" fill="#089981"/>
<rect x="1335" y="412" width="1" height="15" fill="#089981"/>
<rect x="1332" y="421" width="7" height="3" fill="#089981"/>
<rect x="1343" y="382" width="1" height="43" fill="#089981"/>
<rect x="1340" y="392" width="7" height="30" fill="#089981"/>
<rect x="1351" y="381" width="1" height="22" fill="#089981"/>
<rect x="1348" y="386" width="7" height="7" fill="#089981"/>
<rect x="1359" y="368" width="1" height="21" fill="#089981"/>
<rect x="1356" y="372" width="7" height="17" fill="#089981"/>
<rect x="1367" y="358" width="1" height="19" fill="#089981"/>
<rect x="1364" y="363" width="7" height="9" fill="#089981"/>
<rect x="1375" y="352" width="1" height="25" fill="#F23645"/>
<rect x="1372" y="360" width="7" height="6" fill="#F23645"/>
<rect x="1383" y="339" width="1" height="27" fill="#089981"/>
<rect x="1380" y="344" width="7" height="22" fill="#089981"/>
<rect x="1392" y="332" width="1" height="21" fill="#089981"/>
<rect x="1389" y="338" width="7" height="7" fill="#089981"/>
<rect x="1400" y="334" width="1" height="21" fill="#F23645"/>
<rect x="1397" y="338" width="7" height="13" fill="#F23645"/>
<rect x="1408" y="344" width="1" height="26" fill="#F23645"/>
<rect x="1405" y="350" width="7" height="15" fill="#F23645"/>
<rect x="1416" y="348" width="1" height="21" fill="#089981"/>
<rect x="1413" y="357" width="7" height="8" fill="#089981"/>
<rect x="1424" y="333" width="1" height="27" fill="#089981"/>
<rect x="1421" y="335" width="7" height="23" fill="#089981"/>
<rect x="1432" y="315" width="1" height="29" fill="#089981"/>
<rect x="1429" y="334" width="7" height="2" fill="#089981"/>
<rect x="1440" y="321" width="1" height="25" fill="#F23645"/>
<rect x="1437" y="321" width="7" height="23" fill="#F23645"/>
<rect x="1449" y="338" width="1" height="20" fill="#F23645"/>
<rect x="1446" y="343" width="7" height="7" fill="#F23645"/>
<rect x="1457" y="333" width="1" height="31" fill="#089981"/>
<rect x="1454" y="342" width="7" height="8" fill="#089981"/>
<rect x="1465" y="329" width="1" height="20" fill="#089981"/>
<rect x="1462" y="334" width="7" height="15" fill="#089981"/>
<rect x="1473" y="325" width="1" height="12" fill="#089981"/>
<rect x="1470" y="333" width="7" height="1" fill="#089981"/>
<rect x="1481" y="334" width="1" height="23" fill="#F23645"/>
<rect x="1478" y="334" width="7" height="13" fill="#F23645"/>
<rect x="1489" y="335" width="1" height="25" fill="#089981"/>
<rect x="1486" y="346" width="7" height="1" fill="#089981"/>
<rect x="1497" y="334" width="1" height="21" fill="#089981"/>
<rect x="1494" y="335" width="7" height="12" fill="#089981"/>
<rect x="1506" y="319" width="1" height="56" fill="#F23645"/>
<rect x="1503" y="335" width="7" height="37" fill="#F23645"/>
<rect x="1514" y="371" width="1" height="37" fill="#F23645"/>
<rect x="1511" y="371" width="7" height="26" fill="#F23645"/>
<rect x="1522" y="377" width="1" height="27" fill="#089981"/>
<rect x="1519" y="385" width="7" height="16" fill="#089981"/>
<rect x="1530" y="365" width="1" height="42" fill="#089981"/>
<rect x="1527" y="381" width="7" height="11" fill="#089981"/>
<rect x="1538" y="363" width="1" height="15" fill="#089981"/>
<rect x="1535" y="375" width="7" height="3" fill="#089981"/>
<rect x="1546" y="353" width="1" height="36" fill="#089981"/>
<rect x="1543" y="365" width="7" height="11" fill="#089981"/>
<rect x="1554" y="360" width="1" height="21" fill="#F23645"/>
<rect x="1551" y="365" width="7" height="7" fill="#F23645"/>
<rect x="1563" y="357" width="1" height="29" fill="#089981"/>
<rect x="1560" y="362" width="7" height="2" fill="#089981"/>
<rect x="1571" y="340" width="1" height="30" fill="#089981"/>
<rect x="1568" y="350" width="7" height="13" fill="#089981"/>
<rect x="1579" y="344" width="1" height="39" fill="#F23645"/>
<rect x="1576" y="350" width="7" height="32" fill="#F23645"/>
<rect x="1587" y="351" width="1" height="37" fill="#089981"/>
<rect x="1584" y="356" width="7" height="26" fill="#089981"/>
<rect x="1595" y="339" width="1" height="18" fill="#089981"/>
<rect x="1592" y="345" width="7" height="12" fill="#089981"/>
<rect x="1603" y="323" width="1" height="30" fill="#089981"/>
<rect x="1600" y="333" width="7" height="13" fill="#089981"/>
<rect x="1611" y="316" width="1" height="45" fill="#089981"/>
<rect x="1608" y="334" width="7" height="13" fill="#089981"/>
<rect x="1619" y="279" width="1" height="56" fill="#089981"/>
<rect x="1616" y="289" width="7" height="46" fill="#089981"/>
<rect x="1628" y="255" width="1" height="35" fill="#089981"/>
<rect x="1625" y="263" width="7" height="27" fill="#089981"/>
<rect x="1636" y="251" width="1" height="35" fill="#F23645"/>
<rect x="1633" y="263" width="7" height="18" fill="#F23645"/>
</g>
<g stroke="#e2e2e2" stroke-width="1.3" stroke-linecap="round">
<line x1="1098.1" y1="408.2" x2="1660.4" y2="250.8"/>
<line x1="1098.1" y1="526.8" x2="1660.2" y2="369.3"/>
</g>
<g shape-rendering="crispEdges" stroke="#F23645" stroke-opacity="0.8" stroke-dasharray="5 6" stroke-dashoffset="8">
<line x1="0" y1="600.5" x2="1677" y2="600.5"/>
<line x1="0" y1="624.5" x2="1677" y2="624.5"/>
</g>
<polyline points="-0.5,606.3 7.5,604.9 15.5,606.9 24.5,606.5 32.5,614.4 40.5,615.9 48.5,611.2 56.5,609.2 64.5,608.4 72.5,607.2 81.5,604.8 89.5,602.7 97.5,602.2 105.5,606.4 113.5,604.5 121.5,610.8 129.5,611.8 138.5,607.2 146.5,603.9 154.5,603.0 162.5,604.8 170.5,603.0 178.5,602.8 186.5,602.3 195.5,609.1 203.5,611.7 211.5,613.9 219.5,611.2 227.5,612.9 235.5,619.2 243.5,623.3 252.5,626.8 260.5,627.1 268.5,624.6 276.5,624.9 284.5,628.4 292.5,628.4 300.5,629.6 309.5,631.2 317.5,626.0 325.5,627.5 333.5,627.8 341.5,623.8 349.5,621.6 357.5,620.7 366.5,620.5 374.5,620.5 382.5,622.6 390.5,622.8 398.5,620.9 406.5,618.5 414.5,621.4 423.5,623.0 431.5,624.6 439.5,626.2 447.5,622.5 455.5,622.0 463.5,622.7 471.5,618.2 480.5,618.0 488.5,613.8 496.5,615.9 504.5,617.1 512.5,622.4 520.5,624.1 528.5,624.8 537.5,626.3 545.5,626.4 553.5,626.8 561.5,625.6 569.5,621.3 577.5,621.6 585.5,622.0 594.5,623.8 602.5,620.8 610.5,620.8 618.5,619.6 626.5,622.5 634.5,621.7 642.5,622.3 651.5,624.5 659.5,621.2 667.5,621.2 675.5,618.4 683.5,618.2 691.5,620.8 699.5,619.2 708.5,618.3 716.5,618.6 724.5,621.7 732.5,622.5 740.5,625.3 748.5,621.1 756.5,614.9 765.5,616.5 773.5,614.5 781.5,612.1 789.5,609.4 797.5,610.8 805.5,612.8 813.5,610.6 822.5,608.0 830.5,607.2 838.5,608.0 846.5,608.7 854.5,607.7 862.5,607.3 870.5,608.3 879.5,607.8 887.5,607.1 895.5,611.7 903.5,615.0 911.5,617.2 919.5,614.0 927.5,615.9 936.5,613.1 944.5,610.0 952.5,610.8 960.5,610.3 968.5,610.1 976.5,606.5 984.5,612.0 993.5,604.3 1001.5,603.7 1009.5,609.0 1017.5,609.5 1025.5,611.2 1033.5,609.9 1041.5,608.7 1050.5,607.6 1058.5,604.6 1066.5,608.1 1074.5,608.1 1082.5,609.0 1090.5,613.9 1098.5,607.5 1107.5,609.2 1115.5,610.6 1123.5,611.0 1131.5,610.8 1139.5,608.0 1147.5,608.9 1155.5,611.4 1164.5,610.6 1172.5,615.5 1180.5,614.5 1188.5,618.3 1196.5,615.7 1204.5,615.1 1212.5,613.3 1221.5,613.2 1229.5,612.0 1237.5,616.9 1245.5,617.0 1253.5,615.7 1261.5,612.8 1269.5,610.0 1278.5,607.2 1286.5,609.1 1294.5,614.0 1302.5,611.1 1310.5,609.0 1318.5,612.2 1326.5,609.7 1335.5,608.7 1343.5,604.3 1351.5,603.5 1359.5,601.8 1367.5,600.8 1375.5,601.6 1383.5,599.1 1392.5,598.5 1400.5,602.0 1408.5,605.4 1416.5,604.3 1424.5,601.5 1432.5,601.4 1440.5,604.0 1449.5,605.5 1457.5,604.3 1465.5,603.1 1473.5,603.0 1481.5,606.8 1489.5,606.7 1497.5,604.7 1506.5,613.5 1514.5,617.8 1522.5,615.3 1530.5,614.6 1538.5,613.4 1546.5,611.5 1554.5,612.8 1563.5,610.9 1571.5,608.7 1579.5,615.0 1587.5,610.5 1595.5,608.8 1603.5,607.2 1611.5,607.3 1619.5,601.9 1628.5,599.6 1636.5,603.1" fill="none" stroke="#F23645" stroke-width="1.8" stroke-linejoin="round"/>
<rect x="0" y="612" width="1677" height="1" fill="#9a9aa4" fill-opacity="0.85" shape-rendering="crispEdges"/>
<g shape-rendering="crispEdges">
<rect x="1677" y="0" width="1" height="682" fill="#4a4a4a"/>
<rect x="0" y="647" width="1751" height="1" fill="#4a4a4a"/>
<rect x="0" y="573" width="1751" height="1" fill="#d1d4dc"/>
</g>
<text x="1689.64" y="565.90" font-size="16.3" fill="#ffffff" textLength="50.43" lengthAdjust="spacingAndGlyphs" stroke="#ffffff" stroke-width="0.45">20,000</text>
<text x="1689.64" y="515.90" font-size="16.3" fill="#ffffff" textLength="50.43" lengthAdjust="spacingAndGlyphs" stroke="#ffffff" stroke-width="0.45">25,000</text>
<text x="1689.64" y="465.90" font-size="16.3" fill="#ffffff" textLength="50.43" lengthAdjust="spacingAndGlyphs" stroke="#ffffff" stroke-width="0.45">30,000</text>
<text x="1689.64" y="415.90" font-size="16.3" fill="#ffffff" textLength="50.43" lengthAdjust="spacingAndGlyphs" stroke="#ffffff" stroke-width="0.45">35,000</text>
<text x="1690.15" y="365.90" font-size="16.3" fill="#ffffff" textLength="49.91" lengthAdjust="spacingAndGlyphs" stroke="#ffffff" stroke-width="0.45">40,000</text>
<text x="1690.15" y="315.90" font-size="16.3" fill="#ffffff" textLength="49.91" lengthAdjust="spacingAndGlyphs" stroke="#ffffff" stroke-width="0.45">45,000</text>
<text x="1689.64" y="265.90" font-size="16.3" fill="#ffffff" textLength="50.43" lengthAdjust="spacingAndGlyphs" stroke="#ffffff" stroke-width="0.45">50,000</text>
<text x="1689.64" y="215.90" font-size="16.3" fill="#ffffff" textLength="50.43" lengthAdjust="spacingAndGlyphs" stroke="#ffffff" stroke-width="0.45">55,000</text>
<text x="1689.64" y="165.90" font-size="16.3" fill="#ffffff" textLength="50.43" lengthAdjust="spacingAndGlyphs" stroke="#ffffff" stroke-width="0.45">60,000</text>
<text x="1689.64" y="115.90" font-size="16.3" fill="#ffffff" textLength="50.43" lengthAdjust="spacingAndGlyphs" stroke="#ffffff" stroke-width="0.45">65,000</text>
<text x="1689.64" y="65.90" font-size="16.3" fill="#ffffff" textLength="50.43" lengthAdjust="spacingAndGlyphs" stroke="#ffffff" stroke-width="0.45">70,000</text>
<text x="1689.64" y="15.90" font-size="16.3" fill="#ffffff" textLength="50.43" lengthAdjust="spacingAndGlyphs" stroke="#ffffff" stroke-width="0.45">75,000</text>
<path d="M1678 269 H1743 a3 3 0 0 1 3 3 V289 a3 3 0 0 1 -3 3 H1678 Z" fill="#F23645"/>
<text x="1690.35" y="284.60" font-size="16.3" fill="#ffffff" textLength="50.42" lengthAdjust="spacingAndGlyphs" stroke="#ffffff" stroke-width="0.45">48,120</text>
<svg x="1678" y="574" width="73" height="73" overflow="hidden">
<text x="12.15" y="14.30" font-size="16.3" fill="#ffffff" textLength="49.81" lengthAdjust="spacingAndGlyphs" stroke="#ffffff" stroke-width="0.45">100.00</text>
<text x="12.87" y="75.80" font-size="16.3" fill="#ffffff" textLength="33.37" lengthAdjust="spacingAndGlyphs" stroke="#ffffff" stroke-width="0.45">0.00</text>
</svg>
<path d="M1678 591 H1735 a3 3 0 0 1 3 3 V611 a3 3 0 0 1 -3 3 H1678 Z" fill="#F23645"/>
<text x="1690.33" y="609.10" font-size="16.3" fill="#ffffff" textLength="41.63" lengthAdjust="spacingAndGlyphs" stroke="#ffffff" stroke-width="0.45">66.52</text>
<text x="127.06" y="672.80" font-size="16" fill="#ffffff" font-weight="700" textLength="38.69" lengthAdjust="spacingAndGlyphs" stroke="#ffffff" stroke-width="0.45">2022</text>
<text x="347.72" y="672.80" font-size="16" fill="#ffffff" font-weight="700" textLength="19.59" lengthAdjust="spacingAndGlyphs" stroke="#ffffff" stroke-width="0.45">יול'</text>
<text x="550.06" y="672.80" font-size="16" fill="#ffffff" font-weight="700" textLength="38.69" lengthAdjust="spacingAndGlyphs" stroke="#ffffff" stroke-width="0.45">2023</text>
<text x="771.72" y="672.80" font-size="16" fill="#ffffff" font-weight="700" textLength="19.59" lengthAdjust="spacingAndGlyphs" stroke="#ffffff" stroke-width="0.45">יול'</text>
<text x="982.06" y="672.80" font-size="16" fill="#ffffff" font-weight="700" textLength="38.14" lengthAdjust="spacingAndGlyphs" stroke="#ffffff" stroke-width="0.45">2024</text>
<text x="1202.72" y="672.80" font-size="16" fill="#ffffff" font-weight="700" textLength="19.59" lengthAdjust="spacingAndGlyphs" stroke="#ffffff" stroke-width="0.45">יול'</text>
<text x="1405.06" y="672.80" font-size="16" fill="#ffffff" font-weight="700" textLength="38.41" lengthAdjust="spacingAndGlyphs" stroke="#ffffff" stroke-width="0.45">2025</text>
<text x="1626.72" y="672.80" font-size="16" fill="#ffffff" font-weight="700" textLength="19.59" lengthAdjust="spacingAndGlyphs" stroke="#ffffff" stroke-width="0.45">יול'</text>
<text x="3.47" y="24.70" font-size="17.5" fill="#ffffff" textLength="42.98" lengthAdjust="spacingAndGlyphs" stroke="#ffffff" stroke-width="0.45">DANE</text>
<text x="53.03" y="21.50" font-size="11" fill="#ffffff" textLength="4.37" lengthAdjust="spacingAndGlyphs" stroke="#ffffff" stroke-width="0.45">•</text>
<text x="63.86" y="24.70" font-size="17.5" fill="#ffffff" textLength="37.16" lengthAdjust="spacingAndGlyphs" stroke="#ffffff" stroke-width="0.45">שבוע</text>
<text x="101.13" y="24.70" font-size="17.5" fill="#ffffff" textLength="6.78" lengthAdjust="spacingAndGlyphs" stroke="#ffffff" stroke-width="0.45">1</text>
<text x="116.33" y="21.50" font-size="11" fill="#ffffff" textLength="4.37" lengthAdjust="spacingAndGlyphs" stroke="#ffffff" stroke-width="0.45">•</text>
<text x="126.71" y="24.70" font-size="17.5" fill="#ffffff" textLength="35.50" lengthAdjust="spacingAndGlyphs" stroke="#ffffff" stroke-width="0.45">דנאל</text>
<text x="167.73" y="21.50" font-size="11" fill="#ffffff" textLength="4.37" lengthAdjust="spacingAndGlyphs" stroke="#ffffff" stroke-width="0.45">•</text>
<text x="178.79" y="24.70" font-size="17.5" fill="#ffffff" textLength="37.89" lengthAdjust="spacingAndGlyphs" stroke="#ffffff" stroke-width="0.45">TASE</text>
<text x="226.65" y="24.70" font-size="17.5" fill="#ffffff" textLength="10.69" lengthAdjust="spacingAndGlyphs" stroke="#ffffff" stroke-width="0.45">פ</text>
<text x="236.74" y="24.70" font-size="17.5" fill="#F23645" textLength="54.70" lengthAdjust="spacingAndGlyphs" stroke="#F23645" stroke-width="0.45">49,800</text>
<text x="300.42" y="24.70" font-size="17.5" fill="#ffffff" textLength="8.66" lengthAdjust="spacingAndGlyphs" stroke="#ffffff" stroke-width="0.45">ג</text>
<text x="308.44" y="24.70" font-size="17.5" fill="#F23645" textLength="54.20" lengthAdjust="spacingAndGlyphs" stroke="#F23645" stroke-width="0.45">50,980</text>
<text x="372.74" y="24.70" font-size="17.5" fill="#ffffff" textLength="7.63" lengthAdjust="spacingAndGlyphs" stroke="#ffffff" stroke-width="0.45">נ</text>
<text x="379.25" y="24.70" font-size="17.5" fill="#F23645" textLength="54.29" lengthAdjust="spacingAndGlyphs" stroke="#F23645" stroke-width="0.45">47,500</text>
<text x="444.21" y="24.70" font-size="17.5" fill="#ffffff" textLength="11.25" lengthAdjust="spacingAndGlyphs" stroke="#ffffff" stroke-width="0.45">ס</text>
<text x="455.05" y="24.70" font-size="17.5" fill="#F23645" textLength="53.99" lengthAdjust="spacingAndGlyphs" stroke="#F23645" stroke-width="0.45">48,120</text>
<text x="519.65" y="24.70" font-size="17.5" fill="#F23645" textLength="54.32" lengthAdjust="spacingAndGlyphs" stroke="#F23645" stroke-width="0.45">−1,680</text>
<text x="578.74" y="24.70" font-size="17.5" fill="#F23645" textLength="68.31" lengthAdjust="spacingAndGlyphs" stroke="#F23645" stroke-width="0.45">(−3.37%)</text>
<text x="657.95" y="24.70" font-size="17.5" fill="#ffffff" textLength="42.99" lengthAdjust="spacingAndGlyphs" stroke="#ffffff" stroke-width="0.45">מחזור</text>
<text x="699.83" y="24.70" font-size="17.5" fill="#F23645" textLength="44.89" lengthAdjust="spacingAndGlyphs" stroke="#F23645" stroke-width="0.45">21.28</text>
<text x="747.38" y="24.70" font-size="17.5" fill="#F23645" textLength="10.28" lengthAdjust="spacingAndGlyphs" stroke="#F23645" stroke-width="0.45">K</text>
<text x="3.75" y="50.70" font-size="17.5" fill="#ffffff" textLength="43.20" lengthAdjust="spacingAndGlyphs" stroke="#ffffff" stroke-width="0.45">מחזור</text>
<text x="56.64" y="50.70" font-size="17.5" fill="#ef5350" textLength="44.47" lengthAdjust="spacingAndGlyphs" stroke="#ef5350" stroke-width="0.45">21.28</text>
<text x="102.86" y="50.70" font-size="17.5" fill="#ef5350" textLength="11.22" lengthAdjust="spacingAndGlyphs" stroke="#ef5350" stroke-width="0.45">K</text>
<text x="3.32" y="602.50" font-size="17" fill="#ffffff" textLength="115.34" lengthAdjust="spacingAndGlyphs" stroke="#ffffff" stroke-width="0.45">RSI (14, close)</text>
<text x="129.23" y="602.50" font-size="17" fill="#F23645" textLength="43.79" lengthAdjust="spacingAndGlyphs" stroke="#F23645" stroke-width="0.45">66.52</text>
</svg>
</body></html>
